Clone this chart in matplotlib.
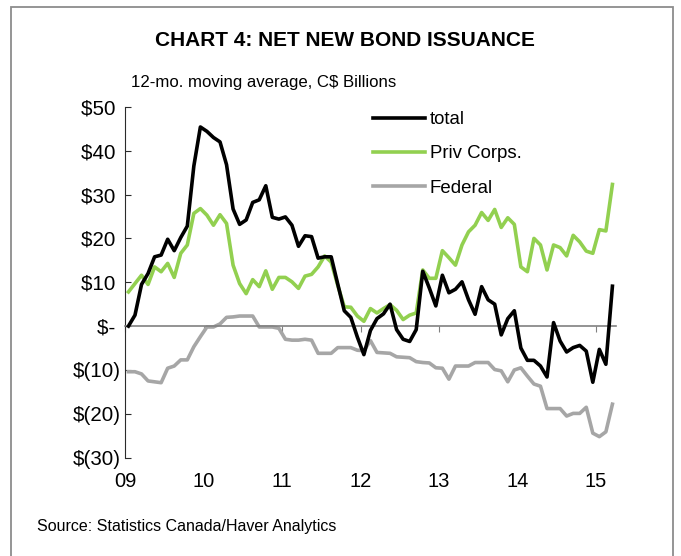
"""Chart 4: net new bond issuance, 12-mo moving average"""

import matplotlib
matplotlib.use("Agg")
import matplotlib.pyplot as plt
from matplotlib.patches import Rectangle

plt.rcParams['font.family'] = ['Liberation Sans', 'DejaVu Sans']

# monthly values, Jan 2009 .. Mar 2015 (C$ billions)
total = [0, 2.5, 9.5, 12, 15.8, 16.2, 19.8, 17.2, 20.2, 22.8,
         36.5, 45.4, 44.4, 43, 42, 36.8, 26.7, 23.2, 24.2, 28.2,
         28.8, 32, 24.8, 24.4, 24.9, 23, 18.2, 20.6, 20.4, 15.5,
         15.8, 15.8, 9.6, 3.5, 2, -2.5, -6.5, -1, 1.7, 2.8,
         5, -0.8, -3, -3.5, -0.8, 12.5, 8.7, 4.6, 11.6, 7.6,
         8.4, 10.1, 6, 2.7, 9, 6, 5, -2, 1.7, 3.5,
         -5, -7.8, -7.8, -9.1, -11.6, 0.8, -3.4, -5.9, -4.9, -4.4,
         -5.7, -12.8, -5.3, -8.7, 9.1]
priv_corps = [7.8, 9.7, 11.6, 9.5, 13.5, 12.4, 14.3, 11.1, 16.6, 18.5,
              25.7, 26.8, 25.3, 23, 25.4, 23.4, 13.9, 9.7, 7.4, 10.6,
              9, 12.6, 8.4, 11.1, 11.1, 10.1, 8.6, 11.4, 11.8, 13.5,
              16, 14.6, 9.3, 4.4, 4.3, 2.3, 1.1, 4.0, 3.0, 4.0,
              4.9, 3.6, 1.5, 2.5, 3.0, 12.8, 10.9, 10.9, 17.2, 15.6,
              13.9, 18.5, 21.5, 23, 25.9, 24.1, 26.6, 22.5, 24.7, 23.2,
              13.5, 12.4, 20, 18.5, 12.8, 18.5, 17.9, 16, 20.7, 19.2,
              17.1, 16.6, 22, 21.7, 32.3]
federal = [-10.4, -10.4, -10.9, -12.5, -12.7, -12.9, -9.6, -9.1, -7.7, -7.7,
           -4.7, -2.4, -0.2, -0.2, 0.5, 2.0, 2.1, 2.3, 2.3, 2.3,
           -0.2, -0.2, -0.2, -0.5, -3.0, -3.2, -3.2, -3.0, -3.2, -6.2,
           -6.2, -6.2, -4.9, -4.9, -4.9, -5.5, -5.6, -3.3, -6.0, -6.1,
           -6.2, -7.0, -7.1, -7.2, -8.1, -8.3, -8.4, -9.5, -9.6, -12.1,
           -9.1, -9.1, -9.1, -8.3, -8.3, -8.3, -9.9, -10.2, -12.7, -10,
           -9.5, -11.4, -13.2, -13.7, -18.8, -18.8, -18.8, -20.5, -19.9, -19.9,
           -18.5, -24.4, -25.2, -24.1, -17.8]
year_labels = ['09', '10', '11', '12', '13', '14', '15']
y_ticks = [50, 40, 30, 20, 10, 0, -10, -20, -30]
y_labels = ['$50 ', '$40 ', '$30 ', '$20 ', '$10 ', '$- ', '$(10)', '$(20)', '$(30)']

x = [i + 0.5 for i in range(len(total))]

fig = plt.figure(figsize=(6.81, 5.56), dpi=100)
fig.patches.append(Rectangle((11 / 681, -0.05), 662 / 681, 1 - 7 / 556 + 0.05,
                             transform=fig.transFigure, fill=False,
                             edgecolor='#8c8c8c', lw=1.3))

ax = fig.add_axes([0.1838, 0.1768, 0.7203, 0.6311])
ax.plot(x, total, color='black', lw=2.6, label='total', zorder=4)
ax.plot(x, priv_corps, color='#92D050', lw=2.6, label='Priv Corps.', zorder=3)
ax.plot(x, federal, color='#A6A6A6', lw=2.6, label='Federal', zorder=2)

ax.set_xlim(0, 75)
ax.set_ylim(-30, 50)

for s in ['top', 'right']:
    ax.spines[s].set_visible(False)
ax.spines['left'].set_color('#2b2b2b')
ax.spines['bottom'].set_position(('data', 0))
ax.spines['bottom'].set_color('#808080')
ax.spines['bottom'].set_linewidth(1.2)

ax.set_yticks(y_ticks)
ax.set_yticklabels(y_labels)
ax.tick_params(axis='y', direction='in', length=4, color='#2b2b2b',
               labelsize=14.8, pad=3)
ax.set_xticks(range(0, 84, 12))
ax.tick_params(axis='x', direction='out', length=4, color='#808080',
               labelbottom=False)

sec = ax.secondary_xaxis('bottom')
sec.set_xticks(range(0, 84, 12))
sec.set_xticklabels(year_labels)
sec.spines['bottom'].set_visible(False)
sec.tick_params(length=0, labelsize=14.5, pad=10)

ax.legend(loc='upper left', bbox_to_anchor=(0.548, 0.800),
          bbox_transform=fig.transFigure, frameon=False, fontsize=13.4,
          handlelength=2.8, handletextpad=0.25, labelspacing=0.92,
          borderpad=0, borderaxespad=0)

fig.text(0.507, 0.928, 'CHART 4: NET NEW BOND ISSUANCE', ha='center',
         va='center', fontsize=15, fontweight='bold')
fig.text(131 / 681, 1 - 82 / 556, '12-mo. moving average, C$ Billions',
         ha='left', va='center', fontsize=12.1)
fig.text(37 / 681, 1 - 527 / 556, 'Source: Statistics Canada/Haver Analytics',
         ha='left', va='center', fontsize=11.5)

fig.savefig('out.png', dpi=100)
